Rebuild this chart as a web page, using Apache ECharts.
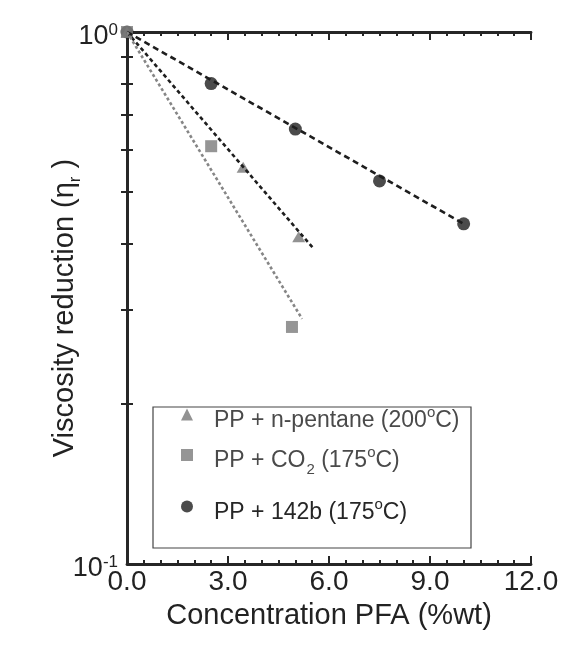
<!DOCTYPE html>
<html>
<head>
<meta charset="utf-8">
<script src="https://cdn.jsdelivr.net/npm/echarts@6/dist/echarts.min.js"></script>
<style>
  html, body { margin: 0; padding: 0; background: #fff; }
  #chart { width: 587px; height: 645px; }
</style>
</head>
<body>
<div id="chart"></div>
<script>
// Measured viscosity reduction vs. blowing-agent concentration
const pentaneX = [0, 3.45, 5.1];
const pentaneY = [1.0, 0.557, 0.412];
const co2X = [0, 2.5, 4.9];
const co2Y = [1.0, 0.61, 0.279];
const r142bX = [0, 2.5, 5.0, 7.5, 10.0];
const r142bY = [1.0, 0.80, 0.657, 0.525, 0.436];

// Fitted exponential trend lines (end points)
const pentaneFitX = [0, 5.55];
const pentaneFitY = [1.0, 0.391];
const co2FitX = [0, 5.2];
const co2FitY = [1.0, 0.289];
const r142bFitX = [0, 10.0];
const r142bFitY = [1.0, 0.436];

// Axis ticks
const xTicks = [0, 3, 6, 9, 12];
const yMinorTicks = [0.2, 0.3, 0.4, 0.5, 0.6, 0.7, 0.8, 0.9];

const seriesNames = [
  'PP + n-pentane (200°C)',
  'PP + CO2 (175°C)',
  'PP + 142b (175°C)'
];

const pairs = (xs, ys) => xs.map((x, i) => [x, ys[i]]);

const FONT = '"Liberation Sans", Arial, Helvetica, sans-serif';
const AXIS_COLOR = '#262626';

const legendRich = {
  n: { fontSize: 23, fontFamily: FONT, color: '#4a4a4a', lineHeight: 30 },
  sub: { fontSize: 15, fontFamily: FONT, color: '#4a4a4a', lineHeight: 15, padding: [17, 0, 0, 1] },
  sup: { fontSize: 15, fontFamily: FONT, color: '#4a4a4a', lineHeight: 15, padding: [0, 0, 16, 0] },
  k: { fontSize: 23, fontFamily: FONT, color: '#262626', lineHeight: 30 },
  ksup: { fontSize: 15, fontFamily: FONT, color: '#262626', lineHeight: 15, padding: [0, 0, 16, 0] }
};

function legendText(name) {
  if (name === seriesNames[0]) return '{n|PP + n-pentane (200}{sup|o}{n|C)}';
  if (name === seriesNames[1]) return '{n|PP + CO}{sub|2}{n| (175}{sup|o}{n|C)}';
  return '{k|PP + 142b (175}{ksup|o}{k|C)}';
}

function makeLegend(name, top) {
  return {
    data: [name],
    left: 181,
    top: top,
    padding: 0,
    itemWidth: 12,
    itemHeight: 12,
    selectedMode: false,
    formatter: legendText,
    textStyle: { padding: [12, 0, 0, 16], rich: legendRich }
  };
}

const chart = echarts.init(document.getElementById('chart'), null, { renderer: 'canvas' });

const xAxisBase = {
  type: 'value',
  min: xTicks[0],
  max: xTicks[xTicks.length - 1],
  interval: 3,
  axisLine: { show: true, onZero: false, lineStyle: { color: AXIS_COLOR, width: 2.8 } },
  axisTick: { show: true, inside: true, length: 8, lineStyle: { color: AXIS_COLOR, width: 2 } },
  minorTick: { show: true, splitNumber: 6, length: 4, lineStyle: { color: AXIS_COLOR, width: 2 } },
  splitLine: { show: false }
};

const yAxisBase = {
  type: 'log',
  logBase: 10,
  min: 0.1,
  max: 1,
  axisLine: { show: true, lineStyle: { color: AXIS_COLOR, width: 2.8 } },
  axisTick: { show: true, inside: true, length: 6, customValues: yMinorTicks, lineStyle: { color: AXIS_COLOR, width: 2 } },
  splitLine: { show: false }
};

const option = {
  backgroundColor: '#ffffff',
  animation: false,
  grid: { left: 127, top: 32, width: 404, height: 532, containLabel: false },
  xAxis: [
    Object.assign({}, xAxisBase, {
      position: 'bottom',
      name: 'Concentration PFA (%wt)',
      nameLocation: 'middle',
      nameGap: 37,
      nameMoveOverlap: false,
      nameTextStyle: { fontSize: 29, fontFamily: FONT, color: '#222' },
      axisLabel: {
        show: true, margin: 4,
        fontSize: 28, fontFamily: FONT, color: '#222',
        formatter: v => v.toFixed(1)
      }
    }),
    Object.assign({}, xAxisBase, {
      position: 'top',
      axisLabel: { show: false }
    })
  ],
  yAxis: [
    Object.assign({}, yAxisBase, {
      position: 'left',
      name: '{t|Viscosity reduction (η}{r|r}{t| )}',
      nameLocation: 'middle',
      nameGap: 45,
      nameRotate: 90,
      nameMoveOverlap: false,
      nameTextStyle: {
        padding: [0, 20, 0, 0],
        rich: {
          t: { fontSize: 29, fontFamily: FONT, color: '#222', lineHeight: 34 },
          r: { fontSize: 17, fontFamily: FONT, color: '#222', lineHeight: 17, padding: [20, 0, 0, 0] }
        }
      },
      axisLabel: {
        show: true, margin: 9,
        padding: [10, 0, 0, 0],
        formatter: v => '{b|10}{s|' + Math.round(Math.log10(v)) + '}',
        rich: {
          b: { fontSize: 27, fontFamily: FONT, color: '#222', lineHeight: 30 },
          s: { fontSize: 17, fontFamily: FONT, color: '#222', lineHeight: 17, padding: [0, 0, 14, 0] }
        }
      }
    }),
    Object.assign({}, yAxisBase, {
      position: 'right',
      axisLabel: { show: false }
    })
  ],
  legend: [
    makeLegend(seriesNames[0], 405),
    makeLegend(seriesNames[1], 445),
    makeLegend(seriesNames[2], 497)
  ],
  graphic: [{
    type: 'rect',
    shape: { x: 153, y: 407, width: 318, height: 141 },
    style: { fill: 'none', stroke: '#444', lineWidth: 1.2 },
    z: 5
  }],
  series: [
    {
      name: 'fit-142b', type: 'line', data: pairs(r142bFitX, r142bFitY),
      symbol: 'none', silent: true,
      lineStyle: { color: '#1e1e1e', width: 2.6, type: [6, 4] }
    },
    {
      name: 'fit-pentane', type: 'line', data: pairs(pentaneFitX, pentaneFitY),
      symbol: 'none', silent: true,
      lineStyle: { color: '#1e1e1e', width: 2.6, type: [4, 3] }
    },
    {
      name: 'fit-co2', type: 'line', data: pairs(co2FitX, co2FitY),
      symbol: 'none', silent: true,
      lineStyle: { color: '#868686', width: 2.6, type: [3, 2.5] }
    },
    {
      name: seriesNames[2], type: 'scatter', data: pairs(r142bX, r142bY),
      symbol: 'circle', symbolSize: 13, clip: false,
      itemStyle: { color: '#1e1e1e' }
    },
    {
      name: seriesNames[0], type: 'scatter', data: pairs(pentaneX, pentaneY),
      symbol: 'triangle', symbolSize: [13, 11], clip: false,
      itemStyle: { color: '#777' }
    },
    {
      name: seriesNames[1], type: 'scatter', data: pairs(co2X, co2Y),
      symbol: 'rect', symbolSize: 12, clip: false,
      itemStyle: { color: '#7a7a7a' }
    }
  ]
};

chart.setOption(option);
</script>
</body>
</html>
